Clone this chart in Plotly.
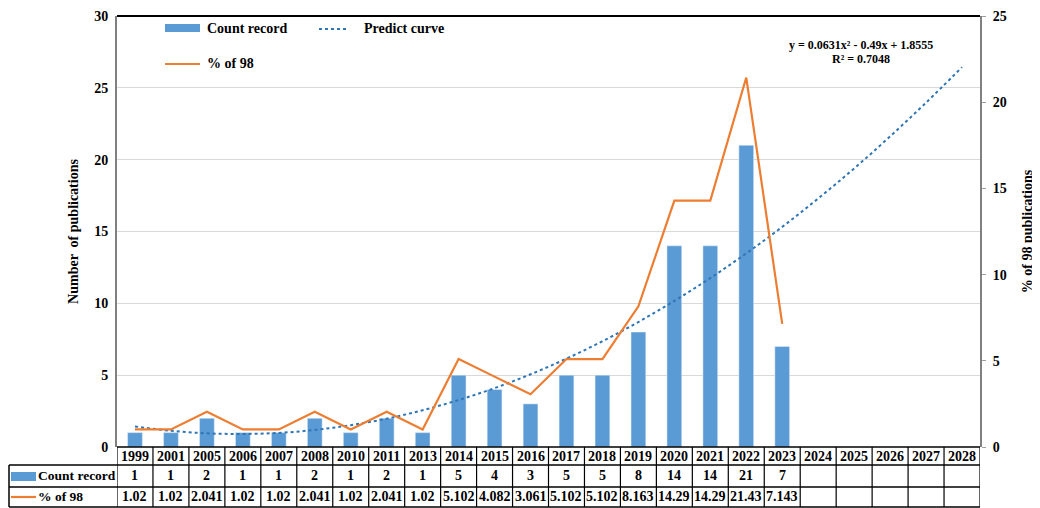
import plotly.graph_objects as go

# categories (years) and series
years = ["1999", "2001", "2005", "2006", "2007", "2008", "2010", "2011", "2013",
         "2014", "2015", "2016", "2017", "2018", "2019", "2020", "2021", "2022",
         "2023", "2024", "2025", "2026", "2027", "2028"]
count_record = [1, 1, 2, 1, 1, 2, 1, 2, 1, 5, 4, 3, 5, 5, 8, 14, 14, 21, 7]
pct_of_98 = [1.02, 1.02, 2.041, 1.02, 1.02, 2.041, 1.02, 2.041, 1.02, 5.102,
             4.082, 3.061, 5.102, 5.102, 8.163, 14.29, 14.29, 21.43, 7.143]
predict_curve = [1.43, 1.13, 0.95, 0.91, 0.98, 1.19, 1.52, 1.97, 2.56, 3.27,
                 4.10, 5.06, 6.15, 7.36, 8.70, 10.17, 11.76, 13.48, 15.32,
                 17.30, 19.39, 21.62, 23.97, 26.44]
pct_labels = ["1.02", "1.02", "2.041", "1.02", "1.02", "2.041", "1.02", "2.041",
              "1.02", "5.102", "4.082", "3.061", "5.102", "5.102", "8.163",
              "14.29", "14.29", "21.43", "7.143"]

# the page adds an 8px body margin, so the figure is drawn 8px smaller
OFF = 8
W, H = 1040 - OFF, 508 - OFF
L, R, T, B = 117 - OFF, 60, 8, 61
BLUE = "#5B9BD5"
ORANGE = "#ED7D31"
DOT = "#2E75B6"
FONT = "Liberation Serif"


def px(x):
    # page pixel x -> paper x
    return (x - OFF - L) / (W - L - R)


def py(y):
    # page pixel y -> paper y
    return (H - B - (y - OFF)) / (H - T - B)


fig = go.Figure()

fig.add_trace(go.Bar(x=years[:len(count_record)], y=count_record, marker_color=BLUE,
                     name="Count record", showlegend=False))
fig.add_trace(go.Scatter(x=years, y=predict_curve, mode="lines", name="Predict curve",
                         line=dict(color=DOT, width=2, dash="dot", shape="spline"),
                         showlegend=False))
fig.add_trace(go.Scatter(x=years[:len(pct_of_98)], y=pct_of_98, mode="lines",
                         name="% of 98", yaxis="y2",
                         line=dict(color=ORANGE, width=2.2), showlegend=False))

shapes = []
annotations = []
tf = dict(family=FONT, size=14, color="black", weight="bold")

# plot border on top
shapes.append(dict(type="line", xref="paper", yref="paper", x0=0, x1=1, y0=1, y1=1,
                   line=dict(color="black", width=2)))

# data table under the plot
row_y = [py(447), py(465), py(487), py(507)]
left_edge = px(OFF + 1)
for k, yy in enumerate(row_y):
    x_start = 0 if k == 0 else left_edge
    shapes.append(dict(type="line", xref="paper", yref="paper", x0=x_start, x1=1,
                       y0=yy, y1=yy, line=dict(color="black", width=1.5)))
shapes.append(dict(type="line", xref="paper", yref="paper", x0=left_edge, x1=left_edge,
                   y0=row_y[1], y1=row_y[3], line=dict(color="black", width=1.5)))
for i in range(len(years) + 1):
    shapes.append(dict(type="line", xref="x", yref="paper", x0=i - 0.5, x1=i - 0.5,
                       y0=row_y[0], y1=row_y[3], line=dict(color="black", width=1.2)))

for i, yr in enumerate(years):
    annotations.append(dict(x=i, xref="x", y=py(456), yref="paper", text=yr,
                            showarrow=False, font=tf, xanchor="center", yanchor="middle"))
for i, v in enumerate(count_record):
    annotations.append(dict(x=i, xref="x", y=py(476), yref="paper", text=str(v),
                            showarrow=False, font=tf, xanchor="center", yanchor="middle"))
for i, v in enumerate(pct_labels):
    annotations.append(dict(x=i, xref="x", y=py(497), yref="paper", text=v,
                            showarrow=False, font=tf, xanchor="center", yanchor="middle"))

# table row headers
shapes.append(dict(type="rect", xref="paper", yref="paper", x0=px(11), x1=px(36),
                   y0=py(472), y1=py(481), fillcolor=BLUE, line=dict(width=0)))
shapes.append(dict(type="line", xref="paper", yref="paper", x0=px(11), x1=px(36),
                   y0=py(497), y1=py(497), line=dict(color=ORANGE, width=2.2)))
hf = dict(family=FONT, size=14, color="black", weight="bold")
rf = dict(family=FONT, size=13.5, color="black", weight="bold")
annotations.append(dict(x=px(36), xref="paper", y=py(476), yref="paper",
                        text="Count record", showarrow=False, font=rf,
                        xanchor="left", yanchor="middle"))
annotations.append(dict(x=px(36), xref="paper", y=py(497), yref="paper",
                        text="% of 98", showarrow=False, font=rf,
                        xanchor="left", yanchor="middle"))

# legend drawn inside the plot
shapes.append(dict(type="rect", xref="paper", yref="paper", x0=px(165), x1=px(200),
                   y0=py(24), y1=py(32), fillcolor=BLUE, line=dict(width=0)))
shapes.append(dict(type="line", xref="paper", yref="paper", x0=px(319), x1=px(346),
                   y0=py(29), y1=py(29), line=dict(color=DOT, width=2, dash="dot")))
shapes.append(dict(type="line", xref="paper", yref="paper", x0=px(165), x1=px(200),
                   y0=py(64), y1=py(64), line=dict(color=ORANGE, width=2.2)))
for x0, y0, txt in [(205, 28, "Count record"), (362, 28, "Predict curve"),
                    (205, 63, "% of 98")]:
    annotations.append(dict(x=px(x0), xref="paper", y=py(y0), yref="paper", text=txt,
                            showarrow=False, font=hf, xanchor="left", yanchor="middle"))

# trendline equation
ef = dict(family=FONT, size=12, color="black", weight="bold")
annotations.append(dict(x=px(861), xref="paper", y=py(45), yref="paper",
                        text="y = 0.0631x² - 0.49x + 1.8555", showarrow=False, font=ef,
                        xanchor="center", yanchor="middle"))
annotations.append(dict(x=px(861), xref="paper", y=py(59), yref="paper",
                        text="R² = 0.7048", showarrow=False, font=ef,
                        xanchor="center", yanchor="middle"))

fig.update_layout(
    width=W, height=H,
    margin=dict(l=L, r=R, t=T, b=B),
    paper_bgcolor="white", plot_bgcolor="white",
    font=dict(family=FONT, color="black"),
    bargap=0.59,
    xaxis=dict(type="category", categoryorder="array", categoryarray=years,
               range=[-0.5, len(years) - 0.5], showticklabels=False, showgrid=False,
               zeroline=False, ticks=""),
    yaxis=dict(range=[0, 30], dtick=5, showgrid=True, gridcolor="#D9D9D9",
               zeroline=False, showline=True, linecolor="#808080", linewidth=2,
               ticklabelstandoff=4, automargin=False, ticklabeloverflow="allow",
               tickfont=dict(family=FONT, size=14, weight="bold"),
               title=dict(text="Number  of publications", standoff=12,
                          font=dict(family=FONT, size=14, weight="bold"))),
    yaxis2=dict(range=[0, 25], dtick=5, overlaying="y",
                side="right", showgrid=False,
                zeroline=False, showline=True, linecolor="#808080", linewidth=2,
                ticks="outside", ticklen=4, tickcolor="#A0A0A0", ticklabelstandoff=4,
                automargin=False, ticklabeloverflow="allow",
                tickfont=dict(family=FONT, size=14, weight="bold"),
                title=dict(text="% of 98 publications", standoff=16,
                           font=dict(family=FONT, size=14, weight="bold"))),
    shapes=shapes,
    annotations=annotations,
)

fig.write_html("out.html")
